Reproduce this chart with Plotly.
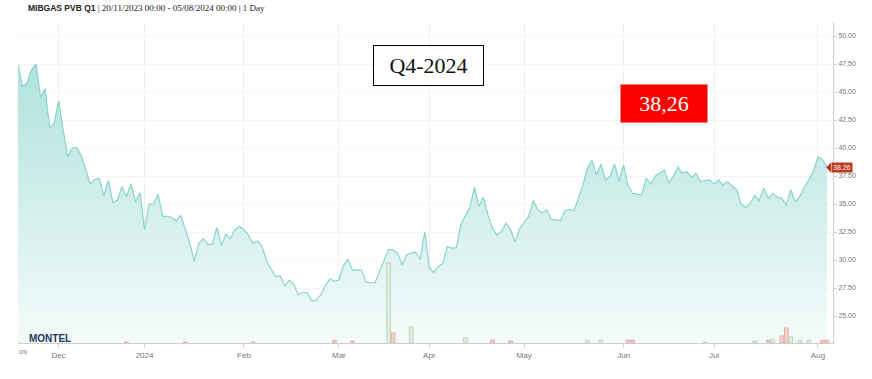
import pandas as pd
import plotly.graph_objects as go

# ---------------- data ----------------
title_name = "MIBGAS PVB Q1"
title_rest = " | 20/11/2023 00:00 - 05/08/2024 00:00 | 1 Day"

holidays = ["2023-12-25", "2023-12-26", "2024-01-01", "2024-03-29", "2024-04-01", "2024-05-01"]
dates = [d.strftime("%Y-%m-%d") for d in pd.bdate_range("2023-11-20", "2024-08-05")
         if d.strftime("%Y-%m-%d") not in holidays]

prices = [
    47.4, 45.5, 45.8, 47.0, 47.5, 44.5, 45.3, 41.8, 42.2, 44.2,
    41.6, 39.2, 40.0, 40.05, 39.3, 38.0, 36.8, 37.2, 37.3, 35.7,
    37.1, 35.15, 35.35, 36.55, 35.65, 36.8, 35.2, 36.0, 32.7, 35.0,
    35.0, 35.9, 33.9, 33.9, 33.8, 33.5, 34.0, 32.8, 31.5, 29.9,
    31.5, 31.9, 31.4, 31.4, 32.9, 31.3, 32.3, 31.9, 32.7, 33.0,
    32.7, 32.2, 31.5, 31.7, 31.2, 29.9, 29.2, 28.5, 28.6, 27.7,
    28.2, 27.85, 26.9, 27.1, 27.1, 26.35, 26.4, 26.9, 27.7, 28.3,
    28.1, 28.2, 29.5, 30.05, 29.1, 29.1, 29.1, 28.05, 27.97, 27.97,
    28.9, 29.95, 30.95, 30.9, 30.6, 29.55, 30.45, 30.65, 30.7, 30.05,
    32.5, 29.3, 28.9, 29.4, 29.7, 31.2, 31.05, 31.1, 33.2, 34.0,
    34.7, 36.5, 34.8, 35.6, 34.0, 32.8, 32.2, 32.6, 33.3, 32.75,
    31.6, 32.8, 33.3, 33.9, 35.3, 34.5, 34.2, 34.5, 33.6, 33.6,
    33.5, 34.4, 34.5, 34.4, 35.5, 36.7, 38.2, 38.9, 37.6, 38.55,
    37.15, 37.45, 38.55, 37.05, 38.5, 36.6, 35.95, 35.85, 35.8, 37.3,
    36.8, 37.5, 37.8, 38.05, 36.85, 37.5, 38.3, 37.75, 37.9, 37.35,
    37.75, 37.0, 37.1, 37.15, 36.8, 37.15, 36.7, 37.0, 36.6, 36.3,
    35.0, 34.7, 35.05, 35.75, 35.3, 36.4, 35.5, 35.95, 35.6, 35.5,
    34.9, 36.25, 35.2, 35.7, 36.5, 37.15, 37.9, 39.2, 39.0, 38.26,
]

vol_dates = ["2023-12-22", "2024-01-15", "2024-02-05", "2024-02-29", "2024-03-06",
             "2024-03-18", "2024-03-19", "2024-03-25", "2024-04-12", "2024-04-22",
             "2024-04-26", "2024-05-22", "2024-05-27", "2024-06-04", "2024-06-05",
             "2024-06-27", "2024-07-12", "2024-07-17", "2024-07-18", "2024-07-22",
             "2024-07-23", "2024-07-24", "2024-07-26", "2024-07-30", "2024-08-02",
             "2024-08-05"]
vol_values = [3, 3, 3, 9, 6,
              250, 31, 50, 16, 9,
              6, 9, 9, 9, 9,
              3, 6, 9, 12, 22,
              47, 19, 9, 9, 9,
              9]

tick_dates = ["2023-12-01", "2024-01-02", "2024-02-01", "2024-03-01", "2024-04-02",
              "2024-05-02", "2024-06-03", "2024-07-01", "2024-08-01"]
tick_labels = ["Dec", "2024", "Feb", "Mar", "Apr", "May", "Jun", "Jul", "Aug"]

y_ticks = [25.0, 27.5, 30.0, 32.5, 35.0, 37.5, 40.0, 42.5, 45.0, 47.5, 50.0]

box_label = "Q4-2024"
last_label = "38,26"

# ---------------- figure ----------------
W, H = 872, 379
ML, MR, MT, MB = 18, 39, 22, 36
PW, PH = W - ML - MR, H - MT - MB

def px_x(px):
    return (px - ML) / PW

def px_y(py):
    return (H - MB - py) / PH

idx = {d: i for i, d in enumerate(dates)}
vol_fill, vol_line = [], []
for d in vol_dates:
    i = idx[d]
    up = i == 0 or prices[i] >= prices[i - 1]
    vol_fill.append("rgba(222,236,218,0.85)" if up else "rgba(243,208,203,0.9)")
    vol_line.append("rgba(185,212,180,0.9)" if up else "rgba(225,168,160,0.9)")

fig = go.Figure()
fig.add_trace(go.Scatter(
    x=dates, y=prices, mode="lines",
    line=dict(color="#88d5ce", width=1.2),
    fill="tozeroy",
    fillgradient=dict(type="vertical",
                      colorscale=[[0, "rgba(244,251,250,1)"], [1, "rgba(176,226,221,1)"]],
                      start=22.6, stop=47.5),
    hoverinfo="skip", showlegend=False,
))
fig.add_trace(go.Bar(
    x=vol_dates, y=vol_values, yaxis="y2", width=0.8,
    marker=dict(color=vol_fill, line=dict(color=vol_line, width=1)),
    showlegend=False, hoverinfo="skip",
))

fig.update_layout(
    width=W, height=H,
    margin=dict(l=ML, r=MR, t=MT, b=MB),
    paper_bgcolor="white", plot_bgcolor="white",
    font=dict(family="Liberation Sans, Arial, sans-serif", color="#777"),
    bargap=0,
    hovermode=False,
    xaxis=dict(
        type="category", categoryorder="array", categoryarray=dates,
        range=[0, len(dates) - 1 + 1.33],
        tickmode="array", tickvals=tick_dates, ticktext=tick_labels,
        tickfont=dict(size=8, color="#777"),
        ticks="outside", ticklen=4, tickcolor="#cfcfcf",
        showgrid=True, gridcolor="#efefef", gridwidth=1,
        showline=True, linecolor="#cfcfcf", linewidth=1,
        zeroline=False,
    ),
    yaxis=dict(
        side="right", range=[22.59, 51.25],
        tickmode="array", tickvals=y_ticks, tickformat=".2f",
        tickfont=dict(size=7, color="#777"),
        ticks="outside", ticklen=3, tickcolor="#cfcfcf",
        showgrid=True, gridcolor="#f4f4f4", gridwidth=1,
        showline=True, linecolor="#cfcfcf", linewidth=1,
        zeroline=False,
    ),
    yaxis2=dict(overlaying="y", range=[0, 1000], visible=False),
)

annotations = [
    dict(xref="paper", yref="paper", x=px_x(26), y=px_y(8), xanchor="left", yanchor="middle",
         text=f"<b>{title_name}</b><span style='font-family:Liberation Serif, serif;font-size:9px'>{title_rest}</span>",
         showarrow=False, font=dict(size=8.5, color="#222", family="Liberation Sans, Arial, sans-serif")),
    dict(xref="paper", yref="paper", x=px_x(428.5), y=px_y(65.5), xanchor="center", yanchor="middle",
         text=box_label, showarrow=False,
         font=dict(size=22, color="#111", family="Liberation Serif, Times New Roman, serif"),
         bgcolor="white", bordercolor="black", borderwidth=1, borderpad=0,
         width=109, height=39),
    dict(xref="paper", yref="paper", x=px_x(664), y=px_y(103.5), xanchor="center", yanchor="middle",
         text=last_label, showarrow=False,
         font=dict(size=22, color="white", family="Liberation Serif, Times New Roman, serif"),
         bgcolor="#ff0000", borderpad=0, width=86, height=37),
    dict(xref="paper", yref="paper", x=px_x(27), y=px_y(338), xanchor="left", yanchor="middle",
         text="<b>MONTEL</b>", showarrow=False,
         font=dict(size=10, color="#1d3a5f", family="Liberation Sans, Arial, sans-serif")),
    dict(xref="paper", yref="paper", x=px_x(17), y=px_y(352), xanchor="left", yanchor="middle",
         text="ov", showarrow=False,
         font=dict(size=8, color="#777", family="Liberation Sans, Arial, sans-serif")),
    dict(xref="paper", yref="y", x=1, y=prices[-1], xanchor="left", yanchor="middle",
         xshift=-2, text=f"{prices[-1]:.2f}", showarrow=False,
         font=dict(size=7, color="white", family="Liberation Sans, Arial, sans-serif"),
         bgcolor="#c0391f", borderpad=1),
]
fig.update_layout(annotations=annotations)

# pointer of the last-price tag
tip = 1 - 7 / PW
base = 1 - 2 / PW
dy = 5 / (PH / (51.25 - 22.59))
fig.add_shape(type="path", xref="paper", yref="y",
              path=f"M {tip},{prices[-1]} L {base},{prices[-1] + dy} L {base},{prices[-1] - dy} Z",
              fillcolor="#c0391f", line=dict(width=0))

fig.write_html("out.html",
               config={"displayModeBar": False, "staticPlot": True},
               post_script="document.body.style.margin='0';document.body.style.overflow='hidden';")
